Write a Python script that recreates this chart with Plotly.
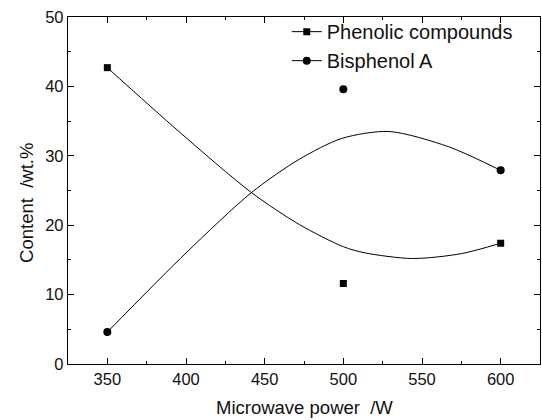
import plotly.graph_objects as go

# measured data points
power = [350, 500, 600]
phenolic = [42.7, 11.6, 17.4]
bisphenol = [4.6, 39.6, 27.9]

# smooth fitted curves
phen_curve_x = [350, 395, 441.6, 472, 500, 514, 544, 575, 600]
phen_curve_y = [42.7, 33.6, 24.7, 20.1, 16.9, 16.0, 15.2, 15.9, 17.4]
bpa_curve_x = [350, 400, 441.6, 472, 499, 529, 567, 600]
bpa_curve_y = [4.6, 16.0, 24.7, 29.5, 32.5, 33.5, 31.3, 27.9]

x_ticks = [350, 400, 450, 500, 550, 600]
y_ticks = [0, 10, 20, 30, 40, 50]

FONT = "Liberation Sans, Arial, sans-serif"
BLACK = "#000000"

fig = go.Figure()

fig.add_trace(go.Scatter(x=phen_curve_x, y=phen_curve_y, mode="lines",
                         line=dict(color=BLACK, width=1, shape="spline", smoothing=0.8),
                         showlegend=False, hoverinfo="skip"))
fig.add_trace(go.Scatter(x=bpa_curve_x, y=bpa_curve_y, mode="lines",
                         line=dict(color=BLACK, width=1, shape="spline", smoothing=0.8),
                         showlegend=False, hoverinfo="skip"))

fig.add_trace(go.Scatter(x=power, y=phenolic, mode="markers",
                         marker=dict(symbol="square", size=7, color=BLACK),
                         showlegend=False))
fig.add_trace(go.Scatter(x=power, y=bisphenol, mode="markers",
                         marker=dict(symbol="circle", size=8, color=BLACK),
                         showlegend=False))

# legend entries
fig.add_trace(go.Scatter(x=[None], y=[None], mode="lines+markers", name="Phenolic compounds",
                         line=dict(color=BLACK, width=1),
                         marker=dict(symbol="square", size=7, color=BLACK)))
fig.add_trace(go.Scatter(x=[None], y=[None], mode="lines+markers", name="Bisphenol A",
                         line=dict(color=BLACK, width=1),
                         marker=dict(symbol="circle", size=8, color=BLACK)))

axis_common = dict(
    showline=True, linecolor=BLACK, linewidth=1.3, mirror="allticks",
    ticks="inside", ticklen=6, tickwidth=1, tickcolor=BLACK,
    showgrid=False, zeroline=False,
    tickfont=dict(family=FONT, size=16.5, color="#111111"),
    minor=dict(ticks="inside", ticklen=3, tickwidth=1, tickcolor=BLACK),
)

fig.update_xaxes(range=[325, 625], tickvals=x_ticks, **axis_common)
fig.update_xaxes(minor_dtick=25)
fig.update_yaxes(range=[0, 50], tickvals=y_ticks, **axis_common)
fig.update_yaxes(minor_dtick=5)

fig.update_layout(
    width=542, height=420,
    margin=dict(l=68, r=2, t=17, b=56),
    paper_bgcolor="white", plot_bgcolor="white",
    font=dict(family=FONT, color="#111111"),
    showlegend=True,
    legend=dict(x=0.4635, y=1.014, xanchor="left", yanchor="top",
                bgcolor="rgba(0,0,0,0)", borderwidth=0,
                font=dict(family=FONT, size=20, color="#111111"),
                tracegroupgap=0, itemwidth=30),
    annotations=[
        dict(text="Microwave power  /W", xref="paper", yref="paper",
             x=0.5, y=-0.125, xanchor="center", yanchor="middle", showarrow=False,
             font=dict(family=FONT, size=18.5, color="#111111")),
        dict(text="Content  /wt.%", xref="paper", yref="paper",
             x=-0.087, y=0.464, xanchor="center", yanchor="middle", showarrow=False,
             textangle=-90, font=dict(family=FONT, size=18.5, color="#111111")),
    ],
)

fig.write_html("out.html")
